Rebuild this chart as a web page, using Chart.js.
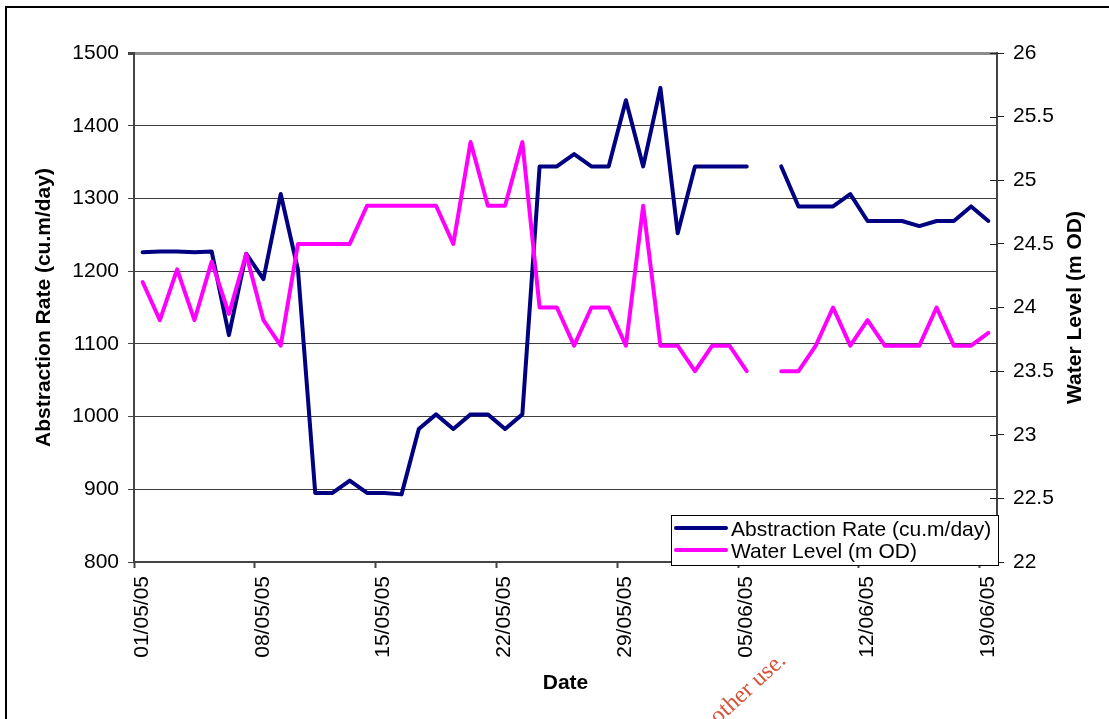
<!DOCTYPE html>
<html>
<head>
<meta charset="utf-8">
<title>Abstraction Rate / Water Level</title>
<script src="https://cdn.jsdelivr.net/npm/chart.js@4/dist/chart.umd.min.js"></script>
<style>
  html, body { margin: 0; padding: 0; background: #fff; overflow: hidden; }
  #marco { position: absolute; left: 5px; top: 6px; width: 1200px; height: 800px;
           border-top: 2px solid #000; border-left: 2px solid #000; }
  #grafico { position: absolute; left: 0; top: 0; }
</style>
</head>
<body>
<div id="marco"></div>
<canvas id="grafico" width="1109" height="719"></canvas>
<script>
// Fechas diarias (eje X)
var fechas = [
  '01/05/05', '02/05/05', '03/05/05', '04/05/05', '05/05/05', '06/05/05', '07/05/05',
  '08/05/05', '09/05/05', '10/05/05', '11/05/05', '12/05/05', '13/05/05', '14/05/05',
  '15/05/05', '16/05/05', '17/05/05', '18/05/05', '19/05/05', '20/05/05', '21/05/05',
  '22/05/05', '23/05/05', '24/05/05', '25/05/05', '26/05/05', '27/05/05', '28/05/05',
  '29/05/05', '30/05/05', '31/05/05', '01/06/05', '02/06/05', '03/06/05', '04/06/05',
  '05/06/05', '06/06/05', '07/06/05', '08/06/05', '09/06/05', '10/06/05', '11/06/05',
  '12/06/05', '13/06/05', '14/06/05', '15/06/05', '16/06/05', '17/06/05', '18/06/05',
  '19/06/05'
];

// Caudal de extracción (cu.m/day) - eje izquierdo
var abstraccion = [
  1226, 1227, 1227, 1226, 1227, 1112, 1224, 1189, 1306, 1202,
  895, 895, 912, 895, 895, 893, 983, 1003, 983, 1003,
  1003, 983, 1003, 1344, 1344, 1361, 1344, 1344, 1435, 1344,
  1452, 1252, 1344, 1344, 1344, 1344, null, 1344, 1289, 1289,
  1289, 1306, 1269, 1269, 1269, 1262, 1269, 1269, 1289, 1269
];

// Nivel de agua (m OD) - eje derecho
var nivelAgua = [
  24.2, 23.9, 24.3, 23.9, 24.36, 23.95, 24.42, 23.9, 23.7, 24.5,
  24.5, 24.5, 24.5, 24.8, 24.8, 24.8, 24.8, 24.8, 24.5, 25.3,
  24.8, 24.8, 25.3, 24.0, 24.0, 23.7, 24.0, 24.0, 23.7, 24.8,
  23.7, 23.7, 23.5, 23.7, 23.7, 23.5, null, 23.5, 23.5, 23.7,
  24.0, 23.7, 23.9, 23.7, 23.7, 23.7, 24.0, 23.7, 23.7, 23.8
];

var nombreAbstraccion = 'Abstraction Rate (cu.m/day)';
var nombreNivel = 'Water Level (m OD)';
var tituloX = 'Date';

var fuente = '"Liberation Sans", Arial, sans-serif';
Chart.defaults.font.family = fuente;
Chart.defaults.font.size = 21;
Chart.defaults.color = '#000';

// Cada punto va en el centro del día (como Excel con eje de fechas)
function puntos(valores) {
  var res = [];
  for (var i = 0; i < valores.length; i++) {
    res.push({ x: i + 0.5, y: valores[i] });
  }
  return res;
}

var pluginExtras = {
  id: 'extras',
  afterDraw: function (chart) {
    var ctx = chart.ctx;
    var area = chart.chartArea;

    // Marcas del eje derecho que cruzan el eje
    var escala = chart.scales.y2;
    ctx.save();
    ctx.strokeStyle = '#222';
    ctx.lineWidth = 1;
    escala.ticks.forEach(function (t) {
      var py = Math.round(escala.getPixelForValue(t.value)) + 0.5;
      ctx.beginPath();
      ctx.moveTo(area.right - 7, py);
      ctx.lineTo(area.right, py);
      ctx.stroke();
    });
    ctx.restore();

    // Título del eje derecho (leído de abajo hacia arriba)
    ctx.save();
    ctx.font = 'bold 21px ' + fuente;
    ctx.fillStyle = '#000';
    ctx.textAlign = 'center';
    ctx.textBaseline = 'middle';
    ctx.translate(1075, (area.top + area.bottom) / 2);
    ctx.rotate(-Math.PI / 2);
    ctx.fillText(nombreNivel, 0, 0);
    ctx.restore();

    // Leyenda dentro del gráfico
    var bx = area.right - 326, by = area.bottom - 47, bw = 328, bh = 51;
    ctx.save();
    ctx.fillStyle = '#fff';
    ctx.fillRect(bx, by, bw, bh);
    ctx.strokeStyle = '#000';
    ctx.lineWidth = 1;
    ctx.strokeRect(bx + 0.5, by + 0.5, bw - 1, bh - 1);
    ctx.font = '21px ' + fuente;
    ctx.textBaseline = 'middle';
    ctx.textAlign = 'left';
    var filas = chart.data.datasets;
    for (var i = 0; i < filas.length; i++) {
      var yy = by + 13 + i * 22;
      ctx.strokeStyle = filas[i].borderColor;
      ctx.lineWidth = 4;
      ctx.lineCap = 'round';
      ctx.beginPath();
      ctx.moveTo(bx + 5, yy);
      ctx.lineTo(bx + 55, yy);
      ctx.stroke();
      ctx.fillStyle = '#000';
      ctx.fillText(filas[i].label, bx + 60, yy + 2);
    }
    ctx.restore();

    // Marca de agua
    ctx.save();
    ctx.font = '24px "Liberation Serif", "Times New Roman", serif';
    ctx.fillStyle = '#d4553c';
    ctx.textAlign = 'right';
    ctx.textBaseline = 'alphabetic';
    ctx.translate(787, 662);
    ctx.rotate(-0.74);
    ctx.fillText('other use.', 0, 0);
    ctx.restore();
  }
};

new Chart(document.getElementById('grafico').getContext('2d'), {
  type: 'line',
  data: {
    datasets: [{
      label: nombreAbstraccion,
      data: puntos(abstraccion),
      borderColor: '#000080',
      borderWidth: 4,
      pointRadius: 0,
      tension: 0,
      borderJoinStyle: 'round',
      borderCapStyle: 'round',
      yAxisID: 'y',
      order: 1
    }, {
      label: nombreNivel,
      data: puntos(nivelAgua),
      borderColor: '#ff00ff',
      borderWidth: 4,
      pointRadius: 0,
      tension: 0,
      borderJoinStyle: 'round',
      borderCapStyle: 'round',
      yAxisID: 'y2',
      order: 0
    }]
  },
  options: {
    responsive: false,
    animation: false,
    layout: { padding: { top: 53, left: 0, right: 0, bottom: 0 } },
    plugins: {
      legend: { display: false },
      tooltip: { enabled: false }
    },
    scales: {
      x: {
        type: 'linear',
        min: 0,
        max: fechas.length,
        afterFit: function (s) { s.height = 157; },
        ticks: {
          stepSize: 7,
          includeBounds: false,
          autoSkip: false,
          maxRotation: 90,
          minRotation: 90,
          padding: 8,
          labelOffset: 8,
          callback: function (v) { return fechas[v]; }
        },
        grid: { drawOnChartArea: false, tickLength: 6, tickColor: '#444', tickWidth: 2 },
        border: { color: '#444', width: 2 },
        title: { display: true, text: tituloX, font: { weight: 'bold', size: 21 }, padding: { top: 0, bottom: 23 } }
      },
      y: {
        position: 'left',
        min: 800,
        max: 1500,
        afterFit: function (s) { s.width = 134; },
        ticks: { stepSize: 100, padding: 9, callback: function (v) { return String(v); } },
        grid: {
          color: function (c) { return c.tick && c.tick.value === 1500 ? '#8c8c8c' : '#3c3c3c'; },
          lineWidth: function (c) { return c.tick && c.tick.value === 1500 ? 3 : 1; },
          tickLength: 6,
          tickColor: '#444'
        },
        border: { color: '#444', width: 2 },
        title: { display: true, text: nombreAbstraccion, font: { weight: 'bold', size: 21 }, padding: { top: 32, bottom: 0 } }
      },
      y2: {
        position: 'right',
        min: 22,
        max: 26,
        afterFit: function (s) { s.width = 112; },
        ticks: { stepSize: 0.5, padding: 9, callback: function (v) { return String(v); } },
        grid: { drawOnChartArea: false, tickLength: 7, tickColor: '#222' },
        border: { color: '#444', width: 2 }
      }
    }
  },
  plugins: [pluginExtras]
});
</script>
</body>
</html>
